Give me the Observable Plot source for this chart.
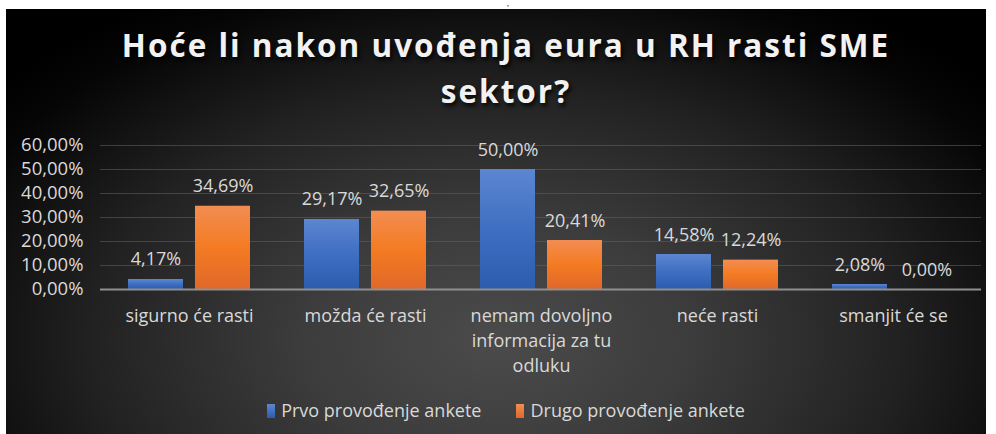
<!DOCTYPE html>
<html>
<head>
<meta charset="utf-8">
<script src="https://cdn.jsdelivr.net/npm/d3@7"></script>
<script src="https://cdn.jsdelivr.net/npm/@observablehq/plot@0.6"></script>
<style>
  html, body { margin: 0; padding: 0; background: #fff; width: 996px; height: 434px; overflow: hidden; }
  #card {
    position: absolute; left: 6px; top: 9px; width: 980px; height: 425px;
    background: radial-gradient(ellipse 66% 95% at 50% 78%, #4b4b4b 0%, #3c3c3c 30%, #222 62%, #050505 90%, #000 100%);
    font-family: "Open Sans", sans-serif; overflow: hidden;
  }
  #title {
    position: absolute; left: 0; top: 13px; width: 1000px; text-align: center;
    color: #f2f2f2; font-weight: 700; font-size: 31.5px; line-height: 46px; letter-spacing: 2px;
    text-shadow: 2px 3px 4px rgba(0,0,0,0.85);
  }
  #chart { position: absolute; left: 0; top: 121px; }
  #legend {
    position: absolute; left: 0; top: 389px; width: 1000px; text-align: center;
    color: #d9d9d9; font-size: 18px; line-height: 24px;
  }
  .item { display: inline-block; margin: 0 17.5px; }
  .sw { display: inline-block; width: 8px; height: 14px; margin-right: 6px; vertical-align: -1px; }
  #mark { position: absolute; left: 507px; top: 0px; font-size: 8px; line-height: 8px; color: #000; font-style: italic; z-index: 2; }
</style>
</head>
<body>
<div id="card">
  <div id="title">Hoće li nakon uvođenja eura u RH rasti SME<br>sektor?</div>
  <div id="chart"></div>
  <div id="legend"></div>
</div>
<div id="mark">,</div>
<script>
const categories = ["sigurno će rasti", "možda će rasti", "nemam dovoljno informacija za tu odluku", "neće rasti", "smanjit će se"];
const categoryLabels = ["sigurno će rasti", "možda će rasti", "nemam dovoljno\ninformacija za tu\nodluku", "neće rasti", "smanjit će se"];
const seriesNames = ["Prvo provođenje ankete", "Drugo provođenje ankete"];
const prvo = [4.17, 29.17, 50.00, 14.58, 2.08];
const drugo = [34.69, 32.65, 20.41, 12.24, 0.00];
const yTicks = [0, 10, 20, 30, 40, 50, 60];

const fmt = v => v.toFixed(2).replace(".", ",") + "%";
const rows1 = categories.map((c, i) => ({category: c, value: prvo[i]}));
const rows2 = categories.map((c, i) => ({category: c, value: drugo[i]}));
const labelOf = new Map(categories.map((c, i) => [c, categoryLabels[i]]));

const textColor = "#d9d9d9";
const fs = 18;
const chart = Plot.plot({
  width: 980,
  height: 253,
  marginTop: 15,
  marginBottom: 94,
  marginLeft: 94,
  marginRight: 5,
  style: {background: "transparent", fontFamily: "Open Sans, sans-serif", fontSize: fs + "px", color: textColor, overflow: "visible"},
  x: {domain: categories, paddingInner: 0.307, paddingOuter: 0.156, axis: null},
  y: {domain: [0, 60], axis: null},
  marks: [
    Plot.gridY(yTicks, {stroke: "#626262", strokeOpacity: 0.55, strokeWidth: 1}),
    Plot.axisY(yTicks, {tickSize: 0, tickPadding: 17, tickFormat: fmt, fill: textColor, fontSize: 18.5, label: null}),
    Plot.barY(rows1, {x: "category", y: "value", fill: "url(#gBlue)", insetRight: 67}),
    Plot.barY(rows2, {x: "category", y: "value", fill: "url(#gOrange)", insetLeft: 67}),
    Plot.ruleY([0], {stroke: "#8f8f8f", strokeWidth: 2}),
    Plot.text(rows1, {x: "category", y: "value", text: d => fmt(d.value), dx: -33.5, dy: -14, lineAnchor: "bottom", fill: textColor, fontSize: fs}),
    Plot.text(rows2, {x: "category", y: "value", text: d => fmt(d.value), dx: 33.5, dy: -14, lineAnchor: "bottom", fill: textColor, fontSize: fs}),
    Plot.text(categories, {x: d => d, text: d => labelOf.get(d), frameAnchor: "bottom", lineAnchor: "top", dy: 15, lineHeight: 1.39, fill: textColor, fontSize: fs})
  ]
});

const ns = "http://www.w3.org/2000/svg";
const defs = document.createElementNS(ns, "defs");
defs.innerHTML = `
<linearGradient id="gBlue" x1="0" y1="0" x2="0" y2="1">
  <stop offset="0" stop-color="#5c86d0"/><stop offset="0.5" stop-color="#3f6fc2"/><stop offset="1" stop-color="#2c5cae"/>
</linearGradient>
<linearGradient id="gOrange" x1="0" y1="0" x2="0" y2="1">
  <stop offset="0" stop-color="#f28d52"/><stop offset="0.5" stop-color="#f47b22"/><stop offset="1" stop-color="#e0682a"/>
</linearGradient>`;
chart.insertBefore(defs, chart.firstChild);
document.getElementById("chart").appendChild(chart);

const legend = document.getElementById("legend");
seriesNames.forEach((name, i) => {
  const item = document.createElement("span");
  item.className = "item";
  const sw = document.createElement("span");
  sw.className = "sw";
  sw.style.background = `linear-gradient(${i ? "#f28d52, #e0682a" : "#5c86d0, #2c5cae"})`;
  item.appendChild(sw);
  item.appendChild(document.createTextNode(name));
  legend.appendChild(item);
});
</script>
</body>
</html>
